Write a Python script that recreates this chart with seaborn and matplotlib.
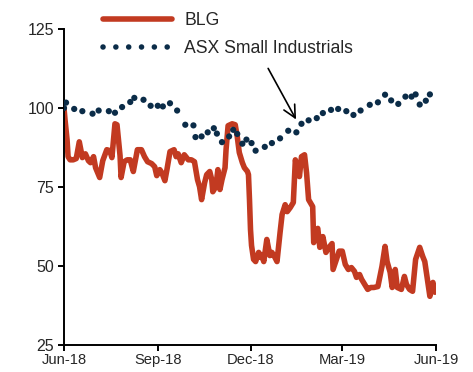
import numpy as np
import pandas as pd
import matplotlib
matplotlib.use("Agg")
import matplotlib.pyplot as plt
import matplotlib.dates as mdates
from matplotlib.lines import Line2D
import seaborn as sns

start_date = "2018-06-01"

# BLG (day offset from start, value)
blg_days = [0, 1, 3, 4, 6, 9, 12, 15, 18, 21, 24, 26, 29, 31, 35, 38, 42, 45, 47, 50,
            52, 55, 56, 59, 62, 65, 68, 72, 76, 79, 82, 86, 89, 91, 94, 96, 99, 101, 104, 108,
            110, 112, 115, 118, 122, 125, 128, 131, 133, 135, 138, 140, 143, 145, 146, 149, 151, 153, 155, 158,
            159, 161, 165, 168, 170, 172, 175, 177, 180, 181, 182, 183, 184, 186, 188, 191, 193, 194, 196, 199,
            202, 204, 207, 209, 212, 214, 217, 219, 222, 225, 227, 229, 231, 233, 236, 238, 240, 244, 245, 249,
            251, 254, 257, 260, 263, 264, 268, 270, 273, 276, 279, 282, 285, 287, 290, 292, 295, 298, 301, 304,
            308, 312, 315, 317, 320, 322, 325, 327, 331, 334, 336, 339, 342, 345, 349, 352, 354, 357, 359, 362,
            364, 366]
blg_values = [100.0, 96.3, 90.0, 84.6, 83.6, 83.6, 84.0, 89.3, 84.3, 85.5, 83.3, 82.7, 84.6, 81.1, 78.0, 83.3, 86.8, 86.5, 84.3, 95.0,
              94.7, 84.9, 78.0, 83.0, 83.6, 83.6, 79.9, 86.8, 86.8, 84.6, 83.0, 82.4, 81.4, 78.6, 80.5, 79.5, 77.0, 80.5, 86.2, 86.8,
              84.6, 85.5, 82.7, 85.2, 83.6, 83.6, 83.0, 77.3, 75.1, 71.0, 76.4, 78.9, 79.9, 77.3, 73.5, 75.1, 80.5, 74.2, 77.3, 81.1,
              86.8, 94.4, 95.0, 94.7, 90.9, 85.9, 82.7, 81.1, 79.9, 78.9, 71.0, 61.5, 56.5, 52.1, 51.4, 54.3, 52.7, 53.6, 51.4, 58.4,
              53.3, 54.3, 52.7, 51.4, 60.6, 66.3, 69.4, 67.2, 68.5, 70.1, 83.6, 81.1, 78.3, 84.6, 85.2, 79.5, 71.0, 68.8, 57.4, 61.9,
              55.9, 59.3, 54.3, 55.9, 57.1, 48.9, 52.7, 54.7, 54.7, 50.5, 48.9, 49.5, 48.3, 46.4, 47.3, 45.8, 44.2, 42.6, 43.2, 43.2,
              43.5, 49.9, 56.2, 51.4, 48.0, 43.2, 48.9, 43.2, 42.6, 46.7, 44.2, 42.6, 42.0, 52.1, 55.9, 53.0, 51.4, 44.8, 40.4, 44.8,
              41.7, 42.0]

# ASX Small Industrials (day offset, value)
asx_days = [0, 2, 10, 18, 28, 34, 44, 50, 57, 65, 69, 78, 85, 92, 97, 104, 111, 119, 127, 129,
            135, 141, 147, 150, 155, 162, 166, 170, 175, 179, 184, 188, 197, 204, 212, 220, 228, 233, 240, 248,
            254, 262, 269, 277, 284, 291, 300, 308, 315, 321, 328, 335, 341, 345, 349, 355, 359]
asx_values = [100.0, 101.7, 99.7, 99.0, 98.2, 99.2, 99.0, 98.5, 100.3, 101.9, 103.2, 102.6, 100.7, 100.7, 100.5, 101.5, 99.2, 94.7, 94.5, 90.8,
              91.0, 92.3, 93.6, 91.9, 89.2, 91.0, 93.1, 91.8, 88.7, 90.0, 88.9, 86.5, 87.7, 88.9, 90.4, 92.8, 92.3, 95.0, 96.1, 96.8,
              98.4, 99.4, 99.7, 99.0, 97.8, 99.2, 101.0, 101.8, 104.2, 102.4, 101.3, 103.6, 103.6, 104.3, 101.1, 102.3, 104.3]

series_labels = ["BLG", "ASX Small Industrials"]
y_ticks = [25, 50, 75, 100, 125]
x_tick_dates = ["2018-06-01", "2018-09-01", "2018-12-01", "2019-03-01", "2019-06-01"]

RED = "#C23A21"
NAVY = "#0B2C48"

sns.set_style("ticks")
plt.rcParams["font.family"] = ["Liberation Sans", "DejaVu Sans"]

t0 = pd.Timestamp(start_date)
blg = pd.DataFrame({"date": t0 + pd.to_timedelta(blg_days, unit="D"), "value": blg_values})
asx = pd.DataFrame({"date": t0 + pd.to_timedelta(asx_days, unit="D"), "value": asx_values})

fig = plt.figure(figsize=(4.73, 3.72), dpi=100)
ax = fig.add_axes([64 / 473, 27 / 372, 372 / 473, 316 / 372])

sns.lineplot(data=blg, x="date", y="value", ax=ax, color=RED, linewidth=4.0,
             solid_joinstyle="round", solid_capstyle="round", zorder=2)
sns.scatterplot(data=asx, x="date", y="value", ax=ax, color=NAVY, s=20,
                edgecolor="none", linewidth=0, zorder=3)

ax.set_ylim(25, 125)
ax.set_xlim(pd.Timestamp(x_tick_dates[0]), pd.Timestamp(x_tick_dates[-1]))
ax.set_yticks(y_ticks)
ax.set_xticks([pd.Timestamp(d) for d in x_tick_dates])
ax.xaxis.set_major_formatter(mdates.DateFormatter("%b-%y"))
ax.set_xlabel("")
ax.set_ylabel("")
for s in ["top", "right"]:
    ax.spines[s].set_visible(False)
for s in ["left", "bottom"]:
    ax.spines[s].set_linewidth(1.4)
    ax.spines[s].set_color("black")
ax.tick_params(axis="both", direction="out", length=4, width=1.4, color="black")
ax.tick_params(axis="x", labelsize=10.6, pad=2)
ax.tick_params(axis="y", labelsize=11.5, pad=3)

# arrow pointing at ASX series
ax.annotate("", xy=(t0 + pd.Timedelta(days=229), 95.6), xytext=(t0 + pd.Timedelta(days=199), 113.3),
            arrowprops=dict(arrowstyle="->", color="black", lw=1.2, mutation_scale=22))

handles = [
    Line2D([], [], color=RED, lw=4.0, solid_capstyle="round"),
    Line2D([], [], color=NAVY, lw=4.0, linestyle=(0, (0.01, 2.3)), dash_capstyle="round"),
]
fig.legend(handles, series_labels, loc="upper left", bbox_to_anchor=(103 / 473, 1 - 12 / 372),
           frameon=False, fontsize=12.7, handlelength=3.9, handletextpad=0.7,
           labelspacing=0.62, borderpad=0, borderaxespad=0)

fig.savefig("out.png", dpi=100, facecolor="white")
